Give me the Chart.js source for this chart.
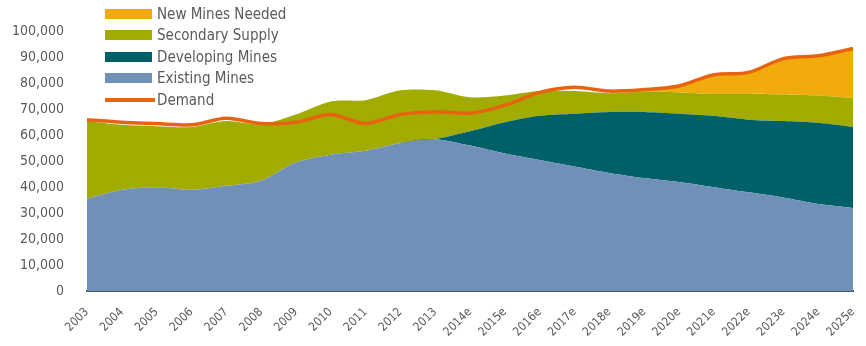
<!DOCTYPE html>
<html>
<head>
<meta charset="utf-8">
<script src="https://cdn.jsdelivr.net/npm/chart.js@4/dist/chart.umd.min.js"></script>
<style>
  body { margin: 0; background: #fff; }
  #wrap { position: relative; width: 866px; height: 346px; }
  #legend { position: absolute; left: 105px; top: 3px; font-family: "DejaVu Sans Condensed", "Liberation Sans Narrow", "DejaVu Sans", sans-serif; font-size: 15px; color: #5a5a5a; }
  #legend div { height: 21.5px; display: flex; align-items: center; }
  #legend span.sw { display: inline-block; width: 47px; height: 10px; margin-right: 5px; }
  #legend span.ln { display: inline-block; width: 50px; height: 4px; margin-right: 2px; }
</style>
</head>
<body>
<div id="wrap">
  <canvas id="supplyChart"></canvas>
  <div id="legend"></div>
</div>
<script>
const years = ["2003", "2004", "2005", "2006", "2007", "2008", "2009", "2010", "2011", "2012", "2013",
  "2014e", "2015e", "2016e", "2017e", "2018e", "2019e", "2020e", "2021e", "2022e", "2023e", "2024e", "2025e"];

const existingMines = [35500, 39000, 40000, 39000, 40500, 42500, 49500, 52500, 54000, 57000, 58500,
  56000, 53000, 50500, 48000, 45500, 43500, 42000, 40000, 38000, 36000, 33500, 32000];
const developingMines = [0, 0, 0, 0, 0, 0, 0, 0, 0, 0, 0,
  5500, 12000, 17000, 20300, 23500, 25500, 26300, 27500, 28000, 29500, 31300, 31200];
const secondarySupply = [30000, 25000, 23500, 24200, 25000, 21800, 18500, 20500, 19500, 20300, 18800,
  13100, 10300, 9500, 8700, 7200, 7800, 8200, 8500, 10000, 10200, 10500, 11100];
const newMinesNeeded = [0, 0, 0, 0, 0, 0, 0, 0, 0, 0, 0,
  0, 0, 0, 0, 0, 500, 2500, 7300, 8200, 13800, 15300, 19100];
const demand = [66000, 65000, 64500, 64000, 66500, 64500, 65000, 68000, 64500, 68000, 69000,
  68500, 71500, 76500, 78500, 77000, 77600, 79000, 83300, 84200, 89500, 90600, 93400];

const yTicks = [0, 10000, 20000, 30000, 40000, 50000, 60000, 70000, 80000, 90000, 100000];

const fontFamily = '"DejaVu Sans Condensed", "Liberation Sans Narrow", "DejaVu Sans", sans-serif';

function area(label, data, color, fill) {
  return {
    label: label,
    data: data,
    backgroundColor: color,
    borderColor: color,
    borderWidth: 0,
    pointRadius: 0,
    fill: fill,
    tension: 0.3,
    stack: "supply"
  };
}

const chart = new Chart(document.getElementById("supplyChart"), {
  type: "line",
  data: {
    labels: years,
    datasets: [
      area("Existing Mines", existingMines, "#7090b8", "origin"),
      area("Developing Mines", developingMines, "#00606a", "-1"),
      area("Secondary Supply", secondarySupply, "#a2ac00", "-1"),
      area("New Mines Needed", newMinesNeeded, "#f2ab0c", "-1"),
      {
        label: "Demand",
        data: demand,
        borderColor: "#e8630f",
        backgroundColor: "#e8630f",
        borderWidth: 3.5,
        pointRadius: 0,
        fill: false,
        tension: 0.3,
        stack: "demand",
        order: -1
      }
    ]
  },
  options: {
    responsive: true,
    maintainAspectRatio: false,
    animation: false,
    layout: { padding: { top: 21, right: 13, left: 0, bottom: 0 } },
    plugins: {
      legend: { display: false },
      tooltip: { enabled: false }
    },
    scales: {
      x: {
        offset: false,
        grid: { display: false, drawTicks: false },
        border: { display: true, color: "#46566a", width: 2 },
        ticks: {
          minRotation: 45,
          maxRotation: 45,
          padding: 14,
          color: "#5a5a5a",
          font: { family: fontFamily, size: 12 }
        },
        // fixed height, and no extra side room for the slanted labels
        afterFit: s => {
          s.height = 55;
          s.paddingLeft = 0;
          s.paddingRight = 0;
        }
      },
      y: {
        stacked: true,
        min: 0,
        max: 100000,
        grid: { display: false, drawTicks: false },
        border: { display: false },
        afterBuildTicks: s => { s.ticks = yTicks.map(v => ({ value: v })); },
        afterFit: s => { s.width = 87; },
        ticks: {
          padding: 23,
          color: "#5a5a5a",
          font: { family: fontFamily, size: 14 },
          callback: v => v.toLocaleString("en-US")
        }
      }
    }
  }
});

// legend, top to bottom as in the stack
const legendOrder = [3, 2, 1, 0, 4];
const legend = document.getElementById("legend");
legendOrder.forEach(i => {
  const ds = chart.data.datasets[i];
  const row = document.createElement("div");
  const mark = document.createElement("span");
  mark.className = ds.fill === false ? "ln" : "sw";
  mark.style.background = ds.fill === false ? ds.borderColor : ds.backgroundColor;
  row.appendChild(mark);
  row.appendChild(document.createTextNode(ds.label));
  legend.appendChild(row);
});
</script>
</body>
</html>
